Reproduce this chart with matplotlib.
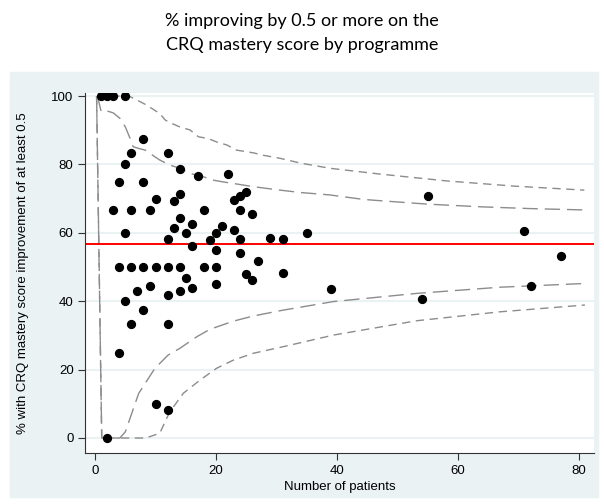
import matplotlib
matplotlib.use("Agg")
import matplotlib.pyplot as plt
from matplotlib.patches import Rectangle

# programmes: number of patients and % improving
n_patients = [1, 2, 3, 5, 8, 6, 12, 5, 14, 4, 8, 17, 22, 10, 13, 14, 3, 6, 9, 18,
              23, 24, 25, 24, 26, 5, 14, 13, 16, 15, 12, 21, 20, 23, 19, 24, 29,
              31, 35, 16, 20, 24, 27, 55, 71, 4, 6, 8, 10, 12, 14, 18, 20, 15, 25,
              26, 31, 7, 9, 12, 14, 16, 20, 5, 8, 6, 12, 4, 10, 12, 2, 39, 54, 72, 77]
pct_improving = [100, 100, 100, 100, 87.5, 83.3, 83.3, 80, 78.6, 75, 75, 76.5, 77.3,
                 70, 69.2, 71.4, 66.7, 66.7, 66.7, 66.7, 69.6, 70.8, 72, 66.7, 65.4,
                 60, 64.3, 61.5, 62.5, 60, 58.3, 61.9, 60, 60.9, 57.9, 58.3, 58.6,
                 58.1, 60, 56.25, 55, 54.2, 51.9, 70.9, 60.6, 50, 50, 50, 50, 50, 50,
                 50, 50, 46.7, 48, 46.2, 48.4, 42.9, 44.4, 41.7, 42.9, 43.75, 45, 40,
                 37.5, 33.3, 33.3, 25, 10, 8.3, 0, 43.6, 40.7, 44.4, 53.2]
overall_pct = 56.7

# control limits
inner_upper_n = [0.4, 1.0, 1.9, 3.0, 4.1, 5.0, 5.8, 6.3, 7.2, 8.3, 9.1, 10.7, 12.4,
                 14.0, 15.7, 17.9, 19.6, 21.2, 23.4, 26.2, 28.4, 30.6, 34.0, 38.8,
                 44.3, 47.2, 55.0, 64.1, 72.0, 81.0]
inner_upper_pct = [100, 95.5, 95.7, 95.1, 93.5, 91.0, 87.6, 85.2, 84.7, 84.2, 83.2,
                   81.3, 79.8, 78.9, 77.4, 76.4, 75.4, 74.9, 74.3, 73.5, 73.0, 72.5,
                   71.8, 71.1, 69.8, 69.4, 68.4, 67.6, 67.1, 66.7]
outer_upper_n = [0.4, 5.6, 7.2, 8.5, 10.7, 11.6, 12.7, 14.0, 15.7, 17.1, 18.7, 20.1,
                 21.8, 23.4, 26.2, 27.8, 30.6, 34.0, 38.8, 47.1, 58.1, 69.1, 80.9]
outer_upper_pct = [100, 100, 98.6, 97.4, 94.9, 93.0, 92.0, 91.0, 90.1, 88.1, 87.6,
                   86.6, 85.7, 84.2, 83.4, 82.7, 81.8, 80.4, 78.9, 77.2, 75.2, 73.7, 72.5]
inner_lower_n = [0.25, 1.1, 4.1, 5.0, 7.2, 9.9, 12.1, 14.0, 16.8, 19.0, 22.9, 26.2,
                 31.1, 39.4, 53.2, 66.9, 81.0]
inner_lower_pct = [100, 0, 0, 1.8, 13.0, 20.4, 24.3, 26.2, 29.6, 31.8, 34.2, 35.7,
                   37.4, 39.9, 42.3, 44.1, 45.2]
outer_lower_n = [0.25, 1.1, 8.4, 10.7, 12.3, 14.6, 17.4, 20.1, 22.9, 26.2, 31.1,
                 39.4, 53.2, 66.9, 81.0]
outer_lower_pct = [100, 0, 0, 1.4, 7.5, 13.1, 17.0, 20.4, 22.8, 24.8, 26.7, 30.1,
                   34.3, 36.9, 38.9]

panel = "#eaf2f3"
plt.rcParams['font.family'] = ['Liberation Sans', 'DejaVu Sans']

fig = plt.figure(figsize=(6.04, 5.04), dpi=100)
fig.patches.append(Rectangle((10/604, 7/504), 588/604, 425/504,
                             transform=fig.transFigure, color=panel, zorder=-10))

ax = fig.add_axes([85.4/604, 1 - 452.7/504, 508.6/604, 360/504])
ax.set_zorder(1)
ax.set_facecolor("white")

for y in range(0, 101, 20):
    ax.axhline(y, color=panel, lw=1.5, zorder=0)

ax.plot(outer_upper_n, outer_upper_pct, color="#8c8c8c", lw=1, dashes=(6, 4))
ax.plot(outer_lower_n, outer_lower_pct, color="#8c8c8c", lw=1, dashes=(6, 4))
ax.plot(inner_upper_n, inner_upper_pct, color="#8c8c8c", lw=1, dashes=(11, 5))
ax.plot(inner_lower_n, inner_lower_pct, color="#8c8c8c", lw=1, dashes=(11, 5))
ax.axhline(overall_pct, color="red", lw=1.4, zorder=2)
ax.scatter(n_patients, pct_improving, s=32, color="black", zorder=3)

ax.set_xlim(-1.6, 82.5)
ax.set_ylim(-4.3, 101)
ax.set_xticks([0, 20, 40, 60, 80])
ax.set_yticks([0, 20, 40, 60, 80, 100])
ax.tick_params(labelsize=9.5, length=5, width=0.8, color="#333333")
for s in ["top", "right"]:
    ax.spines[s].set_visible(False)
for s in ["left", "bottom"]:
    ax.spines[s].set_color("#333333")
    ax.spines[s].set_linewidth(0.8)

ax.set_xlabel("Number of patients", fontsize=9.5, labelpad=3)
ax.set_ylabel("% with CRQ mastery score improvement of at least 0.5", fontsize=9.5,
              labelpad=16)

fig.text(0.5, 0.934, "% improving by 0.5 or more on the\nCRQ mastery score by programme",
         ha="center", va="center", fontsize=13, family=["Lato", "DejaVu Sans"],
         linespacing=1.6)

fig.savefig("out.png", dpi=100)
